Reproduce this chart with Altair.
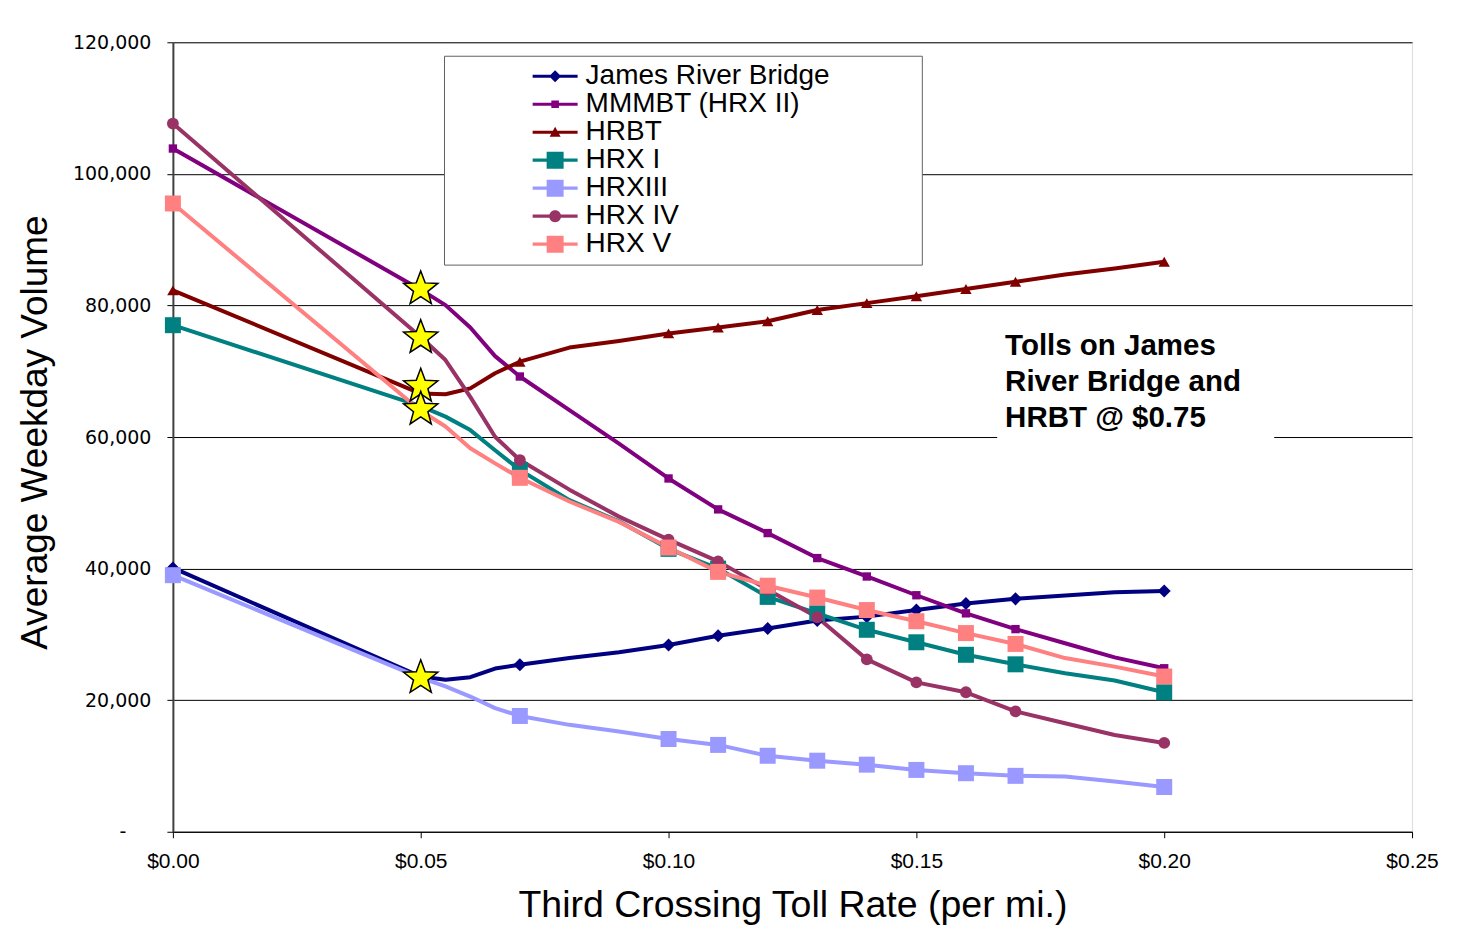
import altair as alt
import pandas as pd

# ---------------- data ----------------
toll = [0.00, 0.05, 0.055, 0.06, 0.065, 0.07, 0.08, 0.09, 0.10, 0.11, 0.12,
        0.13, 0.14, 0.15, 0.16, 0.17, 0.18, 0.19, 0.20]
marker_tolls = [0.00, 0.07, 0.10, 0.11, 0.12, 0.13, 0.14, 0.15, 0.16, 0.17, 0.20]

series_names = ["James River Bridge", "MMMBT (HRX II)", "HRBT", "HRX I",
                "HRXIII", "HRX IV", "HRX V"]

james_river = [40100, 23600, 23100, 23500, 24800, 25400, 26400, 27300, 28400, 29800,
               30900, 32100, 32700, 33700, 34700, 35400, 35900, 36400, 36600]
mmmbt = [103850, 82400, 80050, 76650, 72300, 69200, 64100, 59000, 53700, 49000,
         45400, 41600, 38800, 35950, 33200, 30800, 28650, 26500, 24850]
hrbt = [82300, 66600, 66500, 67400, 69700, 71450, 73600, 74600, 75750, 76650,
        77600, 79300, 80350, 81400, 82500, 83600, 84700, 85600, 86650]
hrx_1 = [77000, 64700, 63100, 61050, 58000, 55000, 50400, 47200, 43000, 40000,
         35700, 33200, 30700, 28800, 26900, 25450, 24100, 23000, 21200]
hrx_3 = [39000, 23400, 22100, 20550, 18800, 17600, 16250, 15250, 14100, 13200,
         11550, 10800, 10200, 9400, 8900, 8500, 8400, 7650, 6800]
hrx_4 = [107650, 75200, 71700, 66100, 60050, 56500, 52000, 47900, 44400, 41100,
         36800, 32600, 26200, 22700, 21200, 18300, 16500, 14700, 13500]
hrx_5 = [95500, 64000, 61600, 58300, 56000, 53800, 50200, 47100, 43200, 39500,
         37400, 35600, 33700, 32000, 30200, 28550, 26400, 25100, 23600]

star_tolls = [0.05, 0.05, 0.05, 0.05, 0.05]
star_volumes = [82500, 75100, 67700, 64200, 23400]

x_ticks = [0.00, 0.05, 0.10, 0.15, 0.20, 0.25]
y_ticks = [0, 20000, 40000, 60000, 80000, 100000, 120000]

note_lines = ["Tolls on James", "River Bridge and", "HRBT @ $0.75"]

# ---------------- styles ----------------
colors = ["#000080", "#800080", "#800000", "#008080", "#9999FF", "#993366", "#FF8080"]
shapes = ["diamond", "square", "triangle-up", "square", "square", "circle", "square"]
sizes = [170, 70, 130, 256, 256, 140, 256]

STAR = ("M0,-1L0.2469,-0.3398L0.9511,-0.309L0.3995,0.1298L0.5878,0.809L0,0.42"
        "L-0.5878,0.809L-0.3995,0.1298L-0.9511,-0.309L-0.2469,-0.3398Z")

bar = "M-1,-0.16H3.5V0.16H-1Z "
legend_paths = [
    bar + "M1.25,-0.6L1.85,0L1.25,0.6L0.65,0Z",
    bar + "M0.87,-0.38H1.63V0.38H0.87Z",
    bar + "M1.25,-0.55L1.8,0.45H0.7Z",
    bar + "M0.4,-0.85H2.1V0.85H0.4Z",
    bar + "M0.4,-0.85H2.1V0.85H0.4Z",
    bar + "M0.65,0A0.6,0.6,0,1,1,1.85,0A0.6,0.6,0,1,1,0.65,0Z",
    bar + "M0.4,-0.85H2.1V0.85H0.4Z",
]

all_values = [james_river, mmmbt, hrbt, hrx_1, hrx_3, hrx_4, hrx_5]
rows = []
for name, vals in zip(series_names, all_values):
    for t, v in zip(toll, vals):
        rows.append({"series": name, "toll": t, "volume": v,
                     "marker": t in marker_tolls})
df = pd.DataFrame(rows)
stars = pd.DataFrame({"toll": star_tolls, "volume": star_volumes})
legend_df = pd.DataFrame({"series": series_names})

xscale = alt.Scale(domain=[0, 0.25], nice=False, zero=False)
yscale = alt.Scale(domain=[0, 120000], nice=False)

xaxis = alt.Axis(
    values=x_ticks, format="$.2f", grid=False, orient="bottom", labelFlush=False,
    labelFont="Liberation Sans", labelFontSize=21, labelColor="black", labelPadding=13,
    tickSize=6, tickColor="black", domainColor="black", domainWidth=1,
    title="Third Crossing Toll Rate (per mi.)", titleFont="Liberation Sans",
    titleFontSize=37.5, titleFontWeight="normal", titleColor="black", titlePadding=15,
)
yaxis = alt.Axis(
    values=y_ticks, orient="left",
    labelExpr="datum.value == 0 ? '-' : format(datum.value, ',')",
    grid=True, gridColor="black", gridWidth=1,
    labelFont="DejaVu Sans", labelFontSize=19, labelColor="black",
    labelPadding={"condition": {"test": "datum.value == 0", "value": 41}, "value": 16},
    tickSize=6, tickColor="black", domainColor="#404040", domainWidth=2,
    title="Average Weekday Volume", titleFont="Liberation Sans",
    titleFontSize=37, titleFontWeight="normal", titleColor="black", titlePadding=18,
    titleY=390,
)

X = alt.X("toll:Q", scale=xscale, axis=xaxis)
Y = alt.Y("volume:Q", scale=yscale, axis=yaxis)

layers = []

# legend box and note box (in data coordinates)
legend_box = alt.Chart(pd.DataFrame({"x": [0.0548], "x2": [0.1512],
                                     "y": [86130], "y2": [117880]})).mark_rect(
    fill="white", stroke="#606060", strokeWidth=1
).encode(x=alt.X("x:Q", scale=xscale, axis=xaxis), x2="x2:Q",
         y=alt.Y("y:Q", scale=yscale, axis=yaxis), y2="y2:Q")
note_box = alt.Chart(pd.DataFrame({"x": [0.1663], "x2": [0.2222],
                                   "y": [59545], "y2": [77015]})).mark_rect(
    fill="white", strokeWidth=0
).encode(x=alt.X("x:Q", scale=xscale, axis=xaxis), x2="x2:Q",
         y=alt.Y("y:Q", scale=yscale, axis=yaxis), y2="y2:Q")
layers += [legend_box, note_box]

for name, col in zip(series_names, colors):
    layers.append(
        alt.Chart(df).transform_filter(alt.datum.series == name).mark_line(
            color=col, strokeWidth=4, interpolate="linear", strokeJoin="round"
        ).encode(x=X, y=Y)
    )
for name, col, shp, sz in zip(series_names, colors, shapes, sizes):
    layers.append(
        alt.Chart(df).transform_filter(
            (alt.datum.series == name) & (alt.datum.marker == True)
        ).mark_point(color=col, shape=shp, size=sz, filled=True, opacity=1)
        .encode(x=X, y=Y)
    )

star_layer = alt.Chart(stars).mark_point(
    shape=STAR, size=1300, filled=True, fill="#FFFF00", stroke="black",
    strokeWidth=1.5, opacity=1
).encode(x=X, y=Y)
layers.append(star_layer)

note = alt.Chart(pd.DataFrame({"x": [0.1679], "y": [75900]})).mark_text(
    text=note_lines, align="left", baseline="top", font="Liberation Sans",
    fontSize=29.5, fontWeight="bold", color="black", lineHeight=36
).encode(x=alt.X("x:Q", scale=xscale, axis=xaxis), y=alt.Y("y:Q", scale=yscale, axis=yaxis))
layers.append(note)

leg = alt.Legend(
    title=None, orient="none", legendX=356, legendY=20,
    labelFont="Liberation Sans", labelFontSize=28, labelColor="black",
    labelLimit=500, labelOffset=29, symbolSize=400, symbolStrokeWidth=0,
    symbolOpacity=1, rowPadding=0, padding=0,
)
legend_layer = alt.Chart(legend_df).mark_point(filled=True, opacity=0).encode(
    color=alt.Color("series:N", sort=series_names,
                    scale=alt.Scale(domain=series_names, range=colors), legend=leg),
    shape=alt.Shape("series:N", sort=series_names,
                    scale=alt.Scale(domain=series_names, range=legend_paths), legend=leg),
)
layers.append(legend_layer)

chart = alt.layer(*layers).properties(
    width=1240, height=790,
    padding={"left": 165, "top": 34, "right": 55, "bottom": 105},
    autosize="none",
).configure_view(
    fill="#C0C0C0", stroke="#808080", strokeWidth=1
).configure(background="white")

chart.save("out.html", embed_options={"renderer": "svg", "actions": False})
